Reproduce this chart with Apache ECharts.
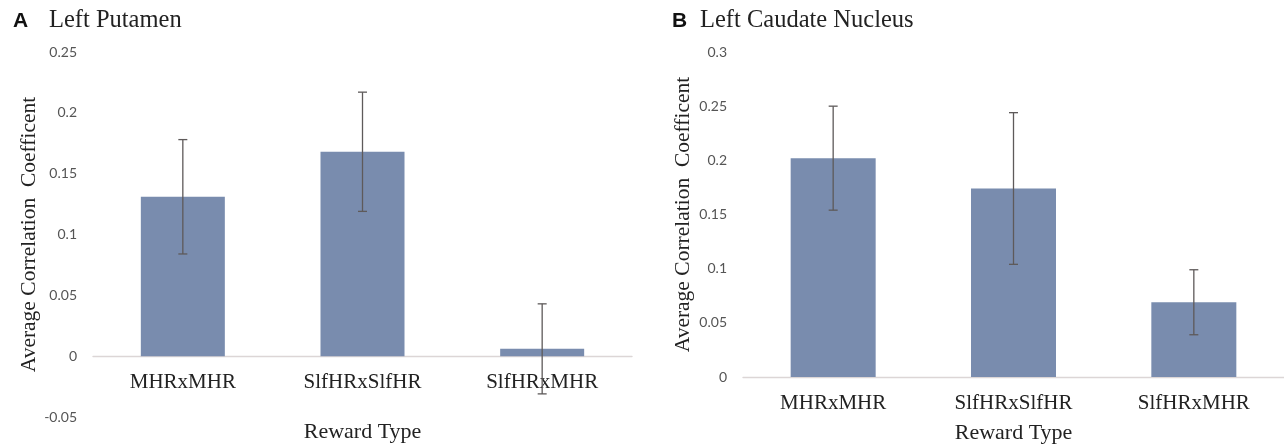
<!DOCTYPE html>
<html>
<head>
<meta charset="utf-8">
<script src="https://cdn.jsdelivr.net/npm/echarts@6/dist/echarts.min.js"></script>
<style>
  html, body { margin: 0; padding: 0; background: #ffffff; }
  #chart { width: 1284px; height: 446px; }
</style>
</head>
<body>
<div id="chart"></div>
<script>
// Reward-type conditions shared by both panels
const categories = ['MHRxMHR', 'SlfHRxSlfHR', 'SlfHRxMHR'];

// Panel A: Left Putamen (mean correlation and error half-width)
const putamenMean = [0.131, 0.168, 0.006];
const putamenErr  = [0.047, 0.049, 0.037];
const putamenAxis = { min: -0.05, max: 0.25, step: 0.05 };

// Panel B: Left Caudate Nucleus
const caudateMean = [0.202, 0.174, 0.069];
const caudateErr  = [0.048, 0.070, 0.030];
const caudateAxis = { min: 0, max: 0.3, step: 0.05 };

const BAR_COLOR = '#798cae';
const ERR_COLOR = '#5e5a5a';
const AXIS_COLOR = '#dcd6d6';
const SERIF = '"Liberation Serif", "Times New Roman", serif';
const SANS = 'Lato, "Open Sans", sans-serif';

const CHART_H = 446;
const grids = [
  { left: 93, right: 652, top: 52, bottom: 29 },
  { left: 743, right: 0, top: 52, bottom: 69 }
];

const chart = echarts.init(document.getElementById('chart'), null, { renderer: 'canvas' });

// Lift the category axis (line, labels and name) up to the y = 0 level
function zeroOffset(grid, ax) {
  const h = CHART_H - grid.top - grid.bottom;
  return -h * (0 - ax.min) / (ax.max - ax.min);
}

function errorSeries(gridIdx, mean, err) {
  return {
    type: 'custom',
    xAxisIndex: gridIdx,
    yAxisIndex: gridIdx,
    z: 5,
    data: mean.map((m, i) => [i, m - err[i], m + err[i]]),
    renderItem: function (params, api) {
      const lo = api.coord([api.value(0), api.value(1)]);
      const hi = api.coord([api.value(0), api.value(2)]);
      const cap = 4.5;
      const style = { stroke: ERR_COLOR, lineWidth: 1.3 };
      return {
        type: 'group',
        children: [
          { type: 'line', shape: { x1: hi[0], y1: hi[1], x2: lo[0], y2: lo[1] }, style },
          { type: 'line', shape: { x1: hi[0] - cap, y1: hi[1], x2: hi[0] + cap, y2: hi[1] }, style },
          { type: 'line', shape: { x1: lo[0] - cap, y1: lo[1], x2: lo[0] + cap, y2: lo[1] }, style }
        ]
      };
    }
  };
}

function xAxisFor(gridIdx, ax, nameGap) {
  return {
    type: 'category',
    gridIndex: gridIdx,
    data: categories,
    offset: zeroOffset(grids[gridIdx], ax),
    axisLine: { onZero: false, lineStyle: { color: AXIS_COLOR, width: 1.4 } },
    axisTick: { show: false },
    axisLabel: { margin: 16, color: '#222', fontFamily: SERIF, fontSize: 21 },
    name: 'Reward Type',
    nameLocation: 'middle',
    nameGap: nameGap,
    nameTextStyle: { color: '#222', fontFamily: SERIF, fontSize: 22 }
  };
}

function yAxisFor(gridIdx, ax, nameGap) {
  return {
    type: 'value',
    gridIndex: gridIdx,
    min: ax.min,
    max: ax.max,
    interval: ax.step,
    axisLine: { show: false },
    axisTick: { show: false },
    splitLine: { show: false },
    axisLabel: {
      margin: 16,
      color: '#555555',
      fontFamily: SANS,
      fontSize: 14,
      formatter: v => String(+v.toFixed(2))
    },
    name: 'Average Correlation  Coefficent',
    nameLocation: 'middle',
    nameRotate: 90,
    nameGap: nameGap,
    nameTextStyle: { color: '#222', fontFamily: SERIF, fontSize: 21.5 }
  };
}

const option = {
  backgroundColor: '#ffffff',
  animation: false,
  graphic: [
    { type: 'text', x: 13, y: 21, style: { text: 'A', font: 'bold 21px "Liberation Sans", Arial, sans-serif', fill: '#111', verticalAlign: 'middle' } },
    { type: 'text', x: 49, y: 21, style: { text: 'Left Putamen', font: '24.5px ' + SERIF, fill: '#222', verticalAlign: 'middle' } },
    { type: 'text', x: 672, y: 21, style: { text: 'B', font: 'bold 21px "Liberation Sans", Arial, sans-serif', fill: '#111', verticalAlign: 'middle' } },
    { type: 'text', x: 700, y: 21, style: { text: 'Left Caudate Nucleus', font: '24.5px ' + SERIF, fill: '#222', verticalAlign: 'middle' } }
  ],
  grid: grids.map(g => Object.assign({ outerBoundsMode: 'none', containLabel: false }, g)),
  xAxis: [xAxisFor(0, putamenAxis, 65), xAxisFor(1, caudateAxis, 45)],
  yAxis: [yAxisFor(0, putamenAxis, 50), yAxisFor(1, caudateAxis, 49)],
  series: [
    { type: 'bar', xAxisIndex: 0, yAxisIndex: 0, data: putamenMean, barWidth: 84, itemStyle: { color: BAR_COLOR } },
    errorSeries(0, putamenMean, putamenErr),
    { type: 'bar', xAxisIndex: 1, yAxisIndex: 1, data: caudateMean, barWidth: 85, itemStyle: { color: BAR_COLOR } },
    errorSeries(1, caudateMean, caudateErr)
  ]
};

chart.setOption(option);
</script>
</body>
</html>
